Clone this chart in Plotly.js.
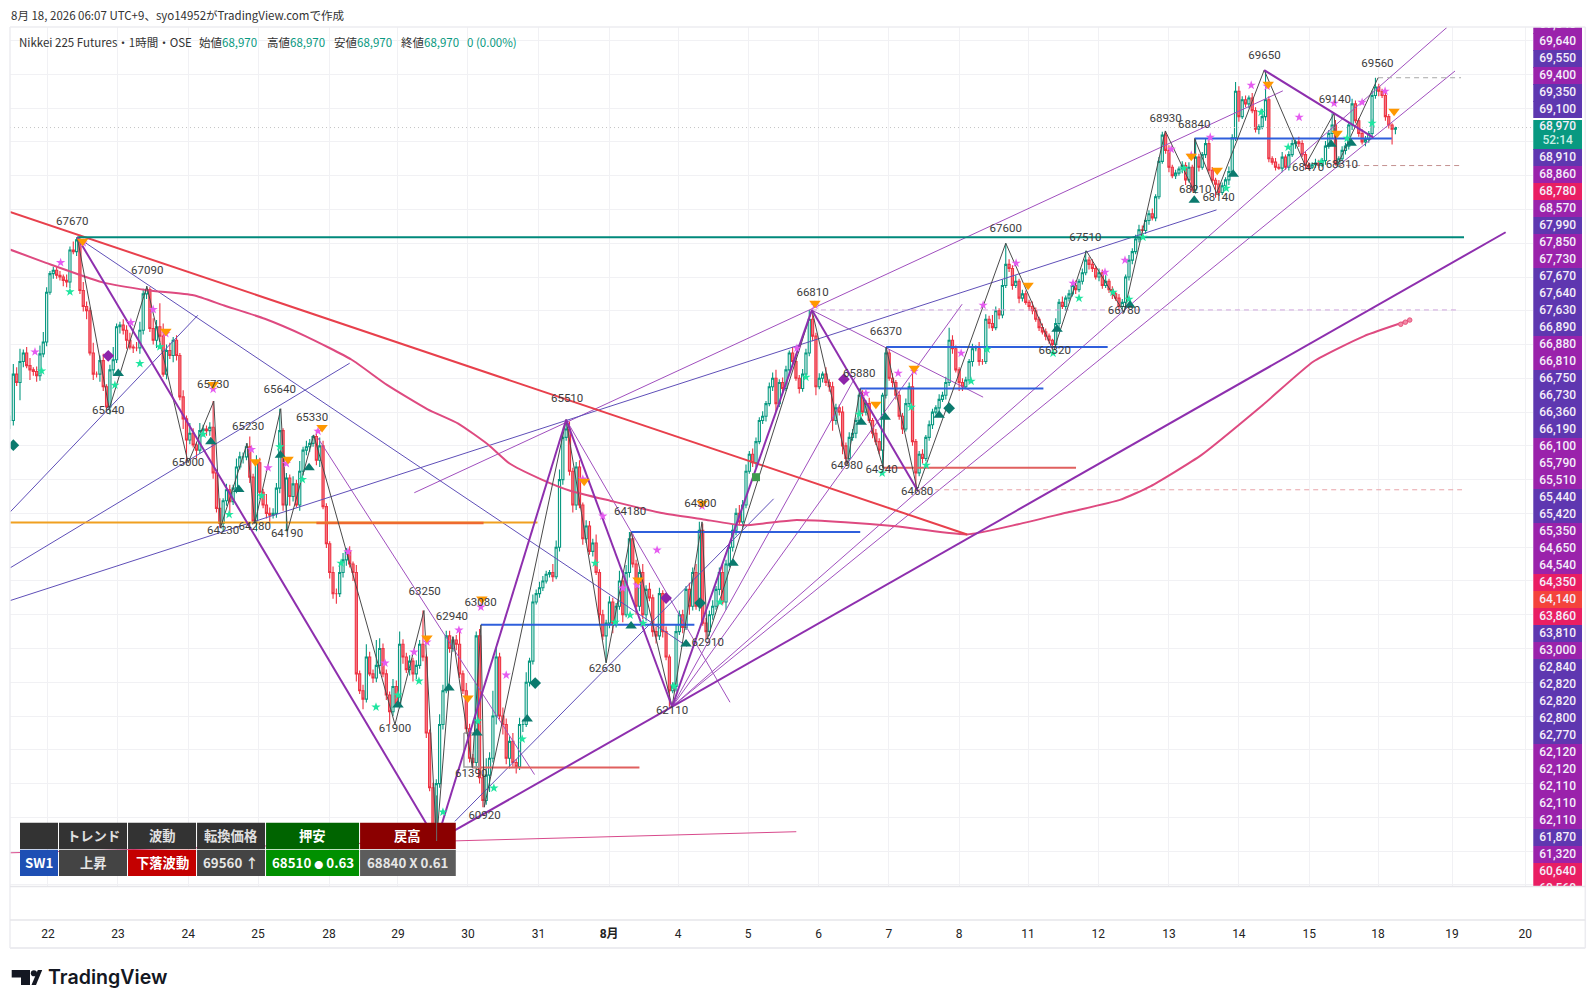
<!DOCTYPE html>
<html><head><meta charset="utf-8">
<script src="https://cdn.plot.ly/plotly-3.0.1.min.js"></script>
<style>html,body{margin:0;padding:0;background:#fff}#c{width:1596px;height:1008px}</style></head>
<body><div id="c"></div>
<script>
const closes=[
65500,66050,65950,66200,66300,66150,66100,66080,66030,66290,
66430,67020,67240,67280,67220,67200,67160,67140,67520,67500,
67640,67040,66850,66800,66300,66050,66050,66210,65900,65660,
66100,66220,66610,66630,66570,66450,66370,66360,66360,66570,
67000,67050,66590,66450,66610,66500,66050,66330,66270,66450,
66270,65780,65520,65270,65350,65210,65150,65380,65400,65380,
65420,64880,64460,64280,64550,64680,64540,64700,64950,65070,
65070,65190,64830,64310,65000,64650,64500,64400,64380,64400,
64700,65380,64500,64820,64600,64750,64500,64900,65150,65190,
65230,65310,65030,65200,64480,64040,63700,63450,63450,63700,
63850,63950,63800,63700,62500,62300,62200,62700,62500,62450,
62600,62800,62500,62250,62050,62350,62150,62850,62700,62550,
62650,62500,62600,62850,62700,61800,61150,60700,61200,61900,
62300,62950,62800,62900,62850,62500,62300,61850,61500,61450,
62950,61270,61000,61300,61500,62000,62700,62000,61900,61500,
61700,61450,61400,61900,61900,62400,62650,63350,63450,63520,
63600,63680,63700,63650,64000,64800,65300,65400,64900,64500,
64950,64500,64100,64250,63950,64050,63700,63200,62950,63100,
63350,63100,63300,63600,63200,63700,64100,63800,63300,63700,
63200,63500,63400,63000,62950,63450,63000,62700,62300,62350,
63000,63200,63050,63500,63300,63700,63300,64200,63100,63000,
63200,63300,63500,63700,63350,63800,64000,64200,64400,64300,
64500,64900,65100,65000,65250,65500,65550,65700,65900,66000,
65700,65950,65880,66100,66300,66200,66000,65880,66050,66300,
66700,66500,65900,66000,66050,65950,65900,65500,65650,65600,
65200,65050,65300,65350,65500,65800,65600,65700,65500,65350,
65250,65150,65800,66300,66000,65950,65800,65550,65400,65700,
65900,65250,64880,65100,65050,65300,65450,65600,65650,65750,
65800,65950,66450,66350,66100,65950,65900,65980,66200,66350,
66350,66200,66200,66700,66650,66600,66800,66750,67100,67350,
67300,67100,67150,66950,67000,66900,66850,66800,66700,66600,
66550,66500,66450,66400,66650,66900,66850,66950,67000,67100,
67050,67150,67250,67400,67350,67300,67200,67250,67100,67150,
67050,67000,66950,66850,66900,67200,67400,67500,67650,67760,
67750,67870,67950,67900,68150,68570,68880,68700,68500,68400,
68430,68480,68520,68350,68500,68230,68620,68500,68650,68780,
68464,68346,68300,68200,68280,68350,68450,68850,69400,69100,
69300,69250,69320,69170,68950,68980,69100,69300,68600,68560,
68500,68490,68620,68500,68650,68780,68800,68780,68650,68520,
68500,68530,68550,68520,68580,68750,68900,69000,68540,68600,
68700,68750,69000,69250,69050,68900,68800,68830,68900,69350,
69450,69400,69350,69100,69000,68950,68970];
const wickUp=[
60,120,80,150,40,70,90,30,60,100,120,60,30,40,40,50,30,70,40,100,
30,60,100,60,40,120,30,60,80,30,60,150,40,40,70,60,90,30,70,100,
60,40,30,120,80,280,150,70,90,40,60,30,80,40,120,60,30,90,50,40,
60,310,40,120,30,70,60,40,100,60,50,40,120,40,90,60,40,130,70,60,
60,260,30,60,40,90,50,120,40,70,50,20,80,100,60,40,30,70,60,120,
80,40,60,30,90,40,70,150,60,50,300,120,60,50,40,90,70,150,60,50,
70,40,60,50,400,30,40,60,50,120,70,60,60,40,60,150,40,90,60,50,
50,80,40,200,70,300,120,50,100,70,60,100,40,80,60,120,40,90,50,70,
60,40,30,100,80,120,60,110,90,40,60,80,30,70,60,50,100,40,60,40,
70,50,40,120,60,90,80,60,50,40,100,50,80,40,60,70,40,60,30,50,
90,50,60,40,80,60,100,100,80,60,50,70,40,60,90,50,40,70,60,100,
60,80,40,70,50,40,60,30,50,70,100,40,60,50,30,70,90,40,60,50,
110,60,40,60,30,80,40,60,50,40,70,40,60,50,30,80,60,40,70,30,
50,40,30,70,40,60,30,50,40,60,50,200,30,40,60,30,50,40,30,60,
40,70,150,60,40,30,50,40,30,60,40,80,30,60,40,100,50,30,70,250,
60,40,70,30,50,40,30,60,40,30,50,40,30,20,60,40,70,30,50,40,
60,30,50,110,40,60,30,50,40,70,30,40,30,50,40,30,60,40,50,60,
50,30,40,60,30,50,40,50,60,30,40,30,50,40,60,30,220,40,30,60,
80,40,30,50,40,30,60,40,110,60,40,50,30,60,40,30,90,350,40,30,
50,40,60,30,40,50,30,60,40,30,40,30,50,40,30,60,40,140,60,30,
50,40,30,60,40,30,50,40,30,60,110,40,30,50,30,20,10];
const wickDn=[
100,60,40,210,70,30,120,50,70,60,40,50,30,60,40,40,70,60,70,30,
50,40,60,100,30,70,40,90,50,20,90,60,40,80,50,100,30,60,40,70,
50,60,40,50,90,70,30,60,40,80,60,40,120,270,50,30,100,40,70,60,
60,70,50,50,100,60,150,40,60,30,80,40,70,30,120,50,40,60,90,40,
50,60,70,310,110,60,30,70,50,60,60,40,60,80,30,50,70,60,120,40,
60,70,40,100,90,40,120,40,30,60,50,100,40,60,150,50,30,60,80,40,
70,90,60,40,50,60,40,60,180,50,60,30,50,40,70,50,40,60,50,60,
90,70,80,50,200,50,100,40,120,70,120,50,80,40,90,30,50,40,30,50,
40,30,40,60,30,50,60,40,50,90,60,40,70,50,40,60,30,120,50,320,
60,120,50,40,90,30,60,40,100,60,50,70,40,60,90,50,70,40,190,30,
60,40,70,30,100,50,40,60,30,90,50,60,40,70,30,90,40,50,60,40,
70,40,30,50,60,30,40,60,30,50,90,40,60,30,50,40,30,60,40,30,
40,60,100,30,50,40,60,120,50,40,100,70,30,40,60,30,50,40,30,60,
40,50,210,40,30,60,50,40,60,30,40,50,200,40,60,30,40,50,30,40,
30,50,40,60,30,100,50,30,40,60,30,50,40,30,60,40,30,50,40,30,
40,50,30,60,40,30,50,40,30,40,30,50,40,80,40,60,30,50,40,30,
50,30,40,30,60,40,30,50,40,30,40,60,30,50,70,30,40,50,30,40,
60,40,50,30,40,30,30,40,60,30,40,30,50,60,30,20,40,50,30,40,
40,30,160,40,30,50,60,30,40,60,30,40,50,30,40,60,30,50,40,30,
40,20,50,30,40,30,60,40,30,50,30,20,40,30,20,50,30,60,20,40,
30,50,40,60,30,40,30,50,40,30,40,60,30,50,40,180,60];

const zigBars=[20.2,29.8,41.1,53.5,61.2,63.2,71.2,73.5,81.3,83.3,91.2,115.6,124.3,128.1,133,138.8,141.4,142.4,167,179,186.5,198.8,207.8,209.4,240.8,251.4,255.3,262.2,263.1,272.4,299,313.3,323.2,334.5,346.9,355.6,355.7,362.3,376.6,388.9,397.6,398.5,410.8];
const zigPrices=[67670,65640,67090,65000,65730,64230,65230,64280,65640,64190,65330,61900,63250,60520,62940,61390,63080,60920,65510,62630,64180,62110,64300,62910,66810,64980,65880,64940,66370,64680,67600,66320,67510,66780,68930,68210,68840,68190,69650,68520,69140,68520,69560];

const labelText=["67670","67090","65730","65640","65000","65230","65640","65330","64230","64280","64190","63250","62940","63080","61900","61390","60920","65510","62630","64180","64300","62910","62110","66810","66370","65880","64980","64940","64680","67600","66320","67510","66780","68930","68840","68210","68140","69650","69140","68470","68310","69560"];
const labelBars=[18.7,41.2,61,29.5,53.5,71.5,81,90.7,64,73.5,83.2,124.5,132.7,141.3,115.6,138.5,142.5,167.3,178.6,186.2,207.3,209.5,198.8,241,263,255,251.3,261.7,272.4,299,313.7,322.9,334.5,347,355.6,355.9,362.9,376.7,397.8,389.8,399.9,410.6];
const labelPrices=[67850,67272,65919,65615,64991,65425,65860,65524,64194,64241,64154,63464,63175,63343,61849,61307,60813,65753,62560,64416,64512,62861,62054,67007,66549,66055,64958,64910,64657,67766,66320,67657,66790,69067,68995,68224,68139,69814,69296,68489,68525,69718];

const maBars=[0,10.8,27.6,41.3,55.1,64.3,76.5,88.7,102.5,113.2,125.4,134.6,143.7,149.9,159,168.2,180.4,195.7,207.9,220.2,235.4,250.7,266,287.4,302.7,318,333.3,342.4,357.7,376.1,391.4,406.6,419.8];
const maValues=[67525,67368,67139,67043,66983,66862,66705,66500,66223,65922,65633,65464,65211,64994,64813,64669,64548,64404,64331,64259,64320,64295,64247,64151,64271,64416,64560,64720,65090,65681,66199,66500,66681];
const maDotBars=[417.6,419,420.3];
const maDotValues=[66640,66665,66690];

const thickSwings=[[20.2,67670,128.1,60520],[128.1,60520,167,65510],[167,65510,198.8,62110],[198.8,62110,240.8,66810],[240.8,66810,272.4,64680],[376.6,69650,409.4,68850],[133,60633,449.1,67730]];
const redTrend=[0,67971,287.4,64151];
const thinPurple=[[121.4,64645,382.2,69405],[198.8,62110,431.5,70157],[198.8,62110,433.9,69640],[198.8,62110,285.9,66878],[198.8,62110,253.8,66013],[167,65510,216.2,62163],[92.4,65296,157.5,61307],[240.8,66807,292.2,65777]];
const thinIndigo=[[0,63367,362.3,67995],[0,63754,102,66179],[0,64415,56.4,66747],[20.2,67670,203.3,62825],[133.6,60753,229.3,64573]];
const thinPink=[0,60380,236.1,60630];

const greenLevel=[20.2,436.6,67670];
const orangeLevel=[0,158.4,64293];
const redOrangeLevel=[92,142.2,64285];
const blueLevels=[[186.5,255.3,64180],[141.4,205.5,63080],[263.1,329.6,66370],[255.3,310.3,65880],[355.7,414.9,68840]];
const redLevels=[[138.8,189,61390],[262.2,320.1,64940]];
const dashedLevels=[[240.8,434.2,66810,"#cfa6dc"],[272.4,436,64680,"#e8a3a8"],[410.8,435.7,69560,"#a8a8a8"],[398.5,435.7,68520,"#c4908f"]];
const lastPrice=68970;
const grayBoxBars=[136.3,140.8,140.8,136.3,136.3];
const grayBoxPrices=[61798,61798,61396,61396,61798];

const pinkBars=[15.2,22,36.3,43,7.5,46.8,61,72.5,77.5,83,92.5,101.5,112.6,121.3,125.2,134.8,141.4,149,172,178,184,188.3,194.3,207.8,236.3,241.7,257,266.7,271.5,285.6,292.2,302.1,319.2,328.8,334.8,348.7,360.4,354.7,372.7,377.5,387.1,397.6,406,412.9];
const pinkPrices=[67371,67604,66661,66815,66313,66530,65871,65157,64940,64991,65374,63945,62627,62757,62876,63018,63290,62485,64806,64368,63515,63551,63965,64486,66357,66866,65824,66061,66084,66297,66866,67363,67126,67256,67399,68713,68855,68642,69471,69459,69092,69257,69269,69400];
const greenBars=[18,9.5,31.5,39,45,58,65.8,75.5,81,87.8,99.4,109.9,116.5,122.8,130,140.5,145.3,153.8,175.7,181.7,186.2,190.1,199.4,213.2,239,255,261.9,270.6,275.1,288.6,293.4,313.2,321,331.2,336,340.2,352.5,365.2,375.7,383.8,393.7,401.5,409];
const greenPrices=[67024,66088,65919,66175,66373,65338,64387,64608,65188,64802,63811,62106,62248,62414,60863,61940,61147,61727,63811,63112,63195,63100,62355,63350,66013,65575,64877,65658,64971,65966,66345,66297,66949,67020,66937,67671,68488,68251,69151,68737,68559,68843,69021];
const upTriBars=[32.5,60.3,68.7,81.2,89.8,116.5,131.8,140.2,155.3,186.5,203,217.1,255.6,262.8,279,314.4,336.3,355.6,367.3,396.7,402.7];
const upTriPrices=[66057,65248,64683,65090,64940,62130,62331,61798,61964,63065,62852,63811,65480,65540,65563,66582,66866,68109,68417,68772,68784];
const dnTriBars=[21.8,46.8,61,73.7,83.5,93.7,125.2,137.5,141.7,172.4,188.6,207.8,241.7,260,271.5,305.7,354.7,362.5,377.8,398.5,415.6];
const dnTriPrices=[67624,66558,65927,65011,65042,65417,62923,62213,63385,64782,63610,64521,66889,65694,66120,67103,68630,68464,69482,68902,69163];
const purpleDiaBars=[29.5,197,250.4], purpleDiaPrices=[66266,63397,65990];
const tealDiaBars=[1,157.7,207.2,282], tealDiaPrices=[65208,62390,63338,65646];
const squareBars=[224], squarePrices=[64829];

const dayTicks=[11.4,32.4,53.5,74.5,95.8,116.5,137.5,158.7,179.9,200.6,221.6,242.8,263.9,285,305.7,326.8,348,369,390.1,410.8,433,455];
const dayLabels=["22","23","24","25","28","29","30","31","<b>8月</b>","4","5","6","7","8","11","12","13","14","15","18","19","20"];

const tagValues=[69840,69640,69550,69400,69350,69100,68970,68910,68860,68780,68570,67990,67850,67730,67670,67640,67630,66890,66880,66810,66750,66730,66360,66190,66100,65790,65510,65440,65420,65350,64650,64540,64350,64140,63860,63810,63000,62840,62820,62820,62800,62770,62120,62120,62110,62110,62110,61870,61320,60640,60560];
const I="#5e37b0",P="#9a22ab",R="#e91e63",O="#f4433c",T="#089981";
const tagColors=[P,P,I,P,I,I,T,I,P,R,P,I,P,P,I,I,I,I,P,P,I,I,I,I,P,P,P,I,I,P,P,P,R,O,R,I,P,I,I,I,I,I,P,P,P,P,P,I,P,R,R];

const tableCells=[
["",20,58,"#333333"],["トレンド",59,127,"#333333"],["波動",128,196,"#333333"],["転換価格",197,265,"#333333"],["押安",266,359,"#006400"],["戻高",360,455.7,"#8b0000"]];
const tableCells2=[
["SW1",20,58,"#1e4fb4"],["上昇",59,127,"#444444"],["下落波動",128,196,"#c40000"],["69560 ↑",197,265,"#444444"],['68510 <span style="font-size:9px">●</span> 0.63',266,359,"#009000"],["68840 X 0.61",360,455.7,"#5c5c5c"]];

const barsIdx=closes.map((_,i)=>i);
const opens=closes.map((c,i)=>i?closes[i-1]:c);
const highs=closes.map((c,i)=>Math.max(c,opens[i])+wickUp[i]);
const lows=closes.map((c,i)=>Math.min(c,opens[i])-wickDn[i]);

function segs(list){const x=[],y=[];list.forEach(s=>{x.push(s[0],s[2],null);y.push(s[1],s[3],null)});return {x,y}}
function levels(list){const x=[],y=[];list.forEach(s=>{x.push(s[0],s[1],null);y.push(s[2],s[2],null)});return {x,y}}
const ln=(d,color,width,extra)=>({type:'scatter',mode:'lines',x:d.x,y:d.y,line:Object.assign({color,width},extra||{}),hoverinfo:'skip',connectgaps:false});
const mk=(x,y,symbol,size,color)=>({type:'scatter',mode:'markers',x,y,marker:{symbol,size,color,line:{width:0}},hoverinfo:'skip'});

const traces=[];
traces.push(ln({x:[0,457.4],y:[lastPrice,lastPrice]},'#c4c4c4',1,{dash:'1px,3px'}));
traces.push(ln({x:[thinPink[0],thinPink[2]],y:[thinPink[1],thinPink[3]]},'#d84a8c',1));
traces.push(ln(segs(thinPurple),'#a04fbe',1));
traces.push(ln(segs(thinIndigo),'#5f4fb8',1));
dashedLevels.forEach(d=>traces.push(ln(levels([d]),d[3],1,{dash:'5px,4px'})));
traces.push({type:'candlestick',x:barsIdx,open:opens,high:highs,low:lows,close:closes,
  increasing:{line:{color:'#089981',width:1.1},fillcolor:'#f2fbf8'},
  decreasing:{line:{color:'#ee3343',width:1.1},fillcolor:'#f47c86'},
  whiskerwidth:0,hoverinfo:'skip',showlegend:false});
traces.push(ln({x:maBars,y:maValues},'#de4a80',2,{shape:'spline',smoothing:0.5}));
traces.push({type:'scatter',mode:'markers',x:maDotBars,y:maDotValues,marker:{symbol:'circle',size:4.5,color:'#f08aa5',line:{width:1,color:'#e8557f'}},hoverinfo:'skip'});
traces.push(ln({x:[redTrend[0],redTrend[2]],y:[redTrend[1],redTrend[3]]},'#e8404c',2));
traces.push(ln(levels([orangeLevel]),'#f0a020',2));
traces.push(ln(levels([redOrangeLevel]),'#ee6a30',2.5));
traces.push(ln(levels([greenLevel]),'#00897b',2));
traces.push(ln(levels(redLevels),'#e0605f',2));
traces.push(ln(levels(blueLevels),'#2f5fdc',2));
traces.push(ln({x:grayBoxBars,y:grayBoxPrices},'#a0a0a0',1.5));
traces.push(ln({x:zigBars,y:zigPrices},'#4a4a4a',1));
traces.push(ln(segs(thickSwings),'#8e2fae',2));
traces.push(mk(greenBars,greenPrices,'star',7,'#1fe5a0'));
traces.push(mk(pinkBars,pinkPrices,'star',7,'#e55cf0'));
traces.push(mk(upTriBars,upTriPrices,'triangle-up',10,'#0b7a6e'));
traces.push(mk(dnTriBars,dnTriPrices,'triangle-down',10,'#ff9800'));
traces.push(mk(purpleDiaBars,purpleDiaPrices,'diamond',9,'#8e24aa'));
traces.push(mk(tealDiaBars,tealDiaPrices,'diamond',9,'#0b7a6e'));
traces.push(mk(squareBars,squarePrices,'square',8,'#3f9a4f'));
traces.push({type:'scatter',mode:'text',x:labelBars,y:labelPrices,text:labelText,textposition:'middle center',
  textfont:{family:'Roboto, sans-serif',size:11.5,color:'#3c3c3c'},hoverinfo:'skip',cliponaxis:false});

const rows=tagValues.map((_,i)=>i>6?i+0.8:i);
traces.push({type:'bar',orientation:'h',xaxis:'x2',yaxis:'y2',x:rows.map(()=>1),y:rows.map((r,i)=>i===6?6.47:r),
  width:rows.map((r,i)=>i===6?1.82:(i===5||i===7?1:1.02)),marker:{color:tagColors,line:{width:0}},hoverinfo:'skip'});
traces.push({type:'scatter',mode:'text',xaxis:'x2',yaxis:'y2',x:rows.map(()=>0.5).concat([0.5]),y:rows.concat([6.83]),
  text:tagValues.map(v=>v.toLocaleString('en-US')).concat(['52:14']),textposition:'middle center',
  textfont:{family:'Roboto, sans-serif',size:12,weight:500,color:tagValues.map(()=>'#f4eefa').concat(['#c8f0e6'])},hoverinfo:'skip'});

const px=x=>(x-10)/1571.7, py=y=>(886-y)/859.3;
const shapes=[], ann=[];
function rectP(x0,x1,y0,y1,fill){shapes.push({type:'rect',xref:'paper',yref:'paper',x0:px(x0),x1:px(x1),y0:py(y0),y1:py(y1),fillcolor:fill,line:{width:0},layer:'above'})}
function lineP(x0,y0,x1,y1,c,w){shapes.push({type:'line',xref:'paper',yref:'paper',x0:px(x0),y0:py(y0),x1:px(x1),y1:py(y1),line:{color:c,width:w},layer:'above'})}
function txt(t,x,y,size,color,anchor,extra){ann.push(Object.assign({xref:'paper',yref:'paper',x:px(x),y:py(y),text:t,showarrow:false,xanchor:anchor||'left',yanchor:'middle',borderpad:0,
  font:{family:'"Noto Sans CJK JP", Roboto, sans-serif',size,color}},extra||{}))}

lineP(10,26.7,1585,26.7,'#ececf0',1.5);
lineP(10,26.7,10,948,'#ececf0',1.5);
lineP(1585,26.7,1585,948,'#ececf0',1.5);
lineP(10,948,1585,948,'#ececf0',2);
lineP(10,886.5,1585,886.5,'#e6e6ea',1.5);
lineP(10,920,1585,920,'#e6e6ea',1.5);

txt('8月 18, 2026 06:07 UTC+9、syo14952がTradingView.comで作成',10,14.6,11.5,'#333');
txt('Nikkei 225 Futures・1時間・OSE',18,41.5,11.5,'#333');
[['始値',198],['高値',266.4],['安値',333],['終値',400]].forEach(a=>{
  txt(a[0]+'<span style="color:#089981">68,970</span>',a[1],41.5,11.5,'#333');
});
txt('0 (0.00%)',466.4,41.5,11.5,'#089981');

const cellFont=(size,color)=>({font:{family:'"Noto Sans CJK JP", Roboto, sans-serif',size,color,weight:600}});
tableCells.forEach(c=>{rectP(c[1],c[2],822.7,849,c[3]);if(c[0])txt(c[0],(c[1]+c[2])/2,835.5,13.3,'#fff','center',cellFont(13.3,c[0]==='押安'||c[0]==='戻高'?'#ffffff':'#e0e0e0'))});
tableCells2.forEach(c=>{rectP(c[1],c[2],849.7,876,c[3]);txt(c[0],(c[1]+c[2])/2,862,13.3,'#fff','center',cellFont(13.3,c[0]==='上昇'||c[0]==='69560 ↑'||c[0]==='68840 X 0.61'?'#e6e6e6':'#ffffff'))});
shapes.push({type:'line',xref:'x',yref:'y',x0:128.1,x1:128.1,y0:60520,y1:61060,line:{color:'#6a6a6a',width:1},layer:'above'});

function pathOf(pts){return pts.map((p,i)=>(i?'L':'M')+px(p[0])+','+py(p[1])).join(' ')+' Z'}
[[[11.7,970],[30,970],[30,985],[21,985],[21,977.5],[11.7,977.5]],[[31.5,985],[37.8,970],[42.2,970],[36,985]]].forEach(p=>
  shapes.push({type:'path',xref:'paper',yref:'paper',path:pathOf(p),fillcolor:'#131722',line:{width:0},layer:'above'}));
shapes.push({type:'circle',xref:'paper',yref:'paper',x0:px(30.8),x1:px(37),y0:py(970.2),y1:py(976.4),fillcolor:'#131722',line:{width:0},layer:'above'});
txt('TradingView',46.5,977.5,19.6,'#131722','left',{font:{family:'Inter, sans-serif',size:19.6,color:'#131722',weight:600}});

const layout={width:1596,height:1008,margin:{l:10,r:14.3,t:26.7,b:122,pad:0},paper_bgcolor:'#fff',plot_bgcolor:'#fff',showlegend:false,
  xaxis:{domain:[0,0.96901],range:[0,457.4],tickmode:'array',tickvals:dayTicks,ticktext:dayLabels,ticks:'outside',ticklen:37,tickcolor:'rgba(0,0,0,0)',
    tickfont:{family:'Roboto, "Noto Sans CJK JP", sans-serif',size:12,color:'#222'},tickangle:0,gridcolor:'#f1f1f4',gridwidth:1,showgrid:true,zeroline:false,showline:false,rangeslider:{visible:false},automargin:false},
  yaxis:{domain:[0,1],range:[59987,70161],tickmode:'linear',tick0:60000,dtick:400,showticklabels:false,ticks:'',gridcolor:'#f1f1f4',gridwidth:1,zeroline:false,showline:false,automargin:false},
  xaxis2:{domain:[0.96901,1],range:[0,1],visible:false,anchor:'y2'},
  yaxis2:{domain:[0,1],range:[50.64,0.12],visible:false,anchor:'x2'},
  bargap:0,boxgap:0.08,shapes,annotations:ann,font:{family:'Roboto, "Noto Sans CJK JP", sans-serif'}};
Plotly.newPlot('c',traces,layout,{displayModeBar:false,staticPlot:true,responsive:false});
</script></body></html>
